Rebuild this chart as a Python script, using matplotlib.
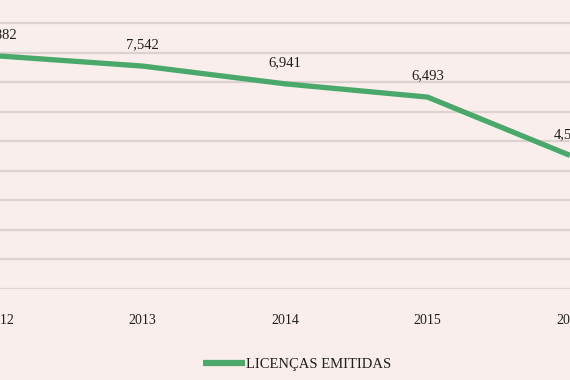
import matplotlib.pyplot as plt

years = ["2012", "2013", "2014", "2015", "2016"]
licencas = [7882, 7542, 6941, 6493, 4520]

bg = "#f9eeeb"
green = "#4aa86b"
ink = "#1f1f1f"

plt.rcParams['font.family'] = ['Liberation Serif', 'DejaVu Serif']

fig = plt.figure(figsize=(5.7, 3.8), dpi=100, facecolor=bg)
ax = fig.add_axes([0, 0.2395, 1, 0.7605], facecolor=bg)

x = list(range(len(years)))
line, = ax.plot(x, licencas, color=green, lw=3.8, solid_capstyle='butt',
                solid_joinstyle='round', label="LICENÇAS EMITIDAS", zorder=3)

for xi, v in zip(x, licencas):
    ax.annotate(f"{v:,}", (xi, v), xytext=(0, 10.5), textcoords="offset points",
                ha="center", va="bottom", fontsize=10.5, color=ink)

ax.set_xlim(0.014, 3.993)
ax.set_ylim(0, 9777)
ax.set_yticks(range(0, 10000, 1000))
ax.set_xticks(x)
ax.set_xticklabels(years, fontsize=10, color=ink)
ax.tick_params(axis="x", length=0, pad=18)
ax.tick_params(axis="y", length=0, labelleft=False)
ax.grid(axis="y", color="#ddd2cf", lw=1.6)
for s in ax.spines.values():
    s.set_visible(False)

fig.legend(handles=[line], loc="center", bbox_to_anchor=(297 / 570, 16 / 380),
           frameon=False, fontsize=10.5, handlelength=2.9, handletextpad=0.1,
           labelcolor=ink)
fig.legends[0].get_lines()[0].set_linewidth(4.5)

fig.savefig("out.png", dpi=100, facecolor=bg)
